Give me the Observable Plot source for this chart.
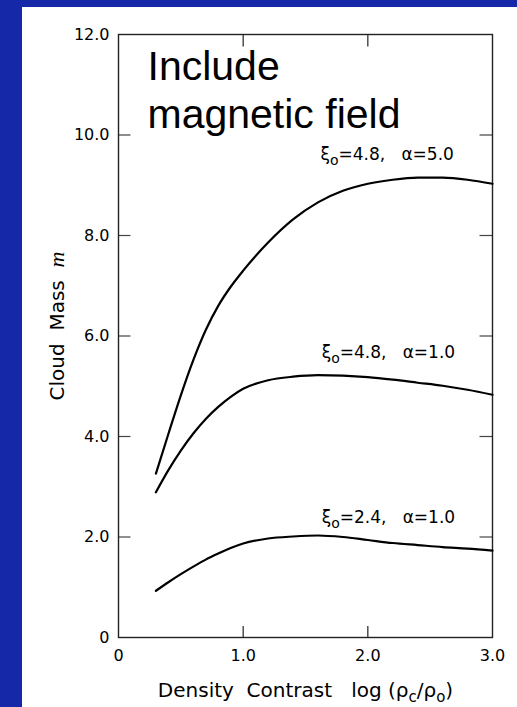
<!DOCTYPE html>
<html><head><meta charset="utf-8">
<script src="https://cdn.jsdelivr.net/npm/d3@7"></script>
<script src="https://cdn.jsdelivr.net/npm/@observablehq/plot@0.6"></script>
<style>
html,body{margin:0;padding:0;background:#1529a8;width:517px;height:707px;overflow:hidden}
#panel{position:absolute;left:22px;top:7px;width:495px;height:700px;background:#fff}
#panel svg text{white-space:pre}
</style></head><body><div id="panel"></div>
<script>
// ---- data ----
const xTicks = [0, 1, 2, 3];
const yTicks = [0, 2, 4, 6, 8, 10, 12];
const innerXTicks = [1, 2];
const innerYTicks = [2, 4, 6, 8, 10];

const seriesNames = ["xi4.8_a5.0", "xi4.8_a1.0", "xi2.4_a1.0"];
const logContrast = [0.30, 0.40, 0.50, 0.60, 0.70, 0.80, 0.90, 1.00, 1.20, 1.40, 1.60, 1.80, 2.00, 2.20, 2.40, 2.60, 2.80, 3.00];
const massA = [3.26, 4.05, 4.82, 5.52, 6.12, 6.60, 6.98, 7.30, 7.86, 8.32, 8.66, 8.89, 9.03, 9.11, 9.15, 9.15, 9.11, 9.03];
const massB = [2.89, 3.33, 3.72, 4.06, 4.35, 4.59, 4.79, 4.95, 5.12, 5.19, 5.22, 5.21, 5.18, 5.13, 5.07, 5.01, 4.93, 4.83];
const massC = [0.93, 1.10, 1.26, 1.41, 1.55, 1.67, 1.78, 1.87, 1.97, 2.01, 2.03, 2.00, 1.94, 1.88, 1.84, 1.80, 1.77, 1.73];

const labelXi = ["4.8", "4.8", "2.4"];
const labelAlpha = ["5.0", "1.0", "1.0"];
const labelAtX = [1.62, 1.63, 1.63];
const labelAtM = [9.51, 5.57, 2.27];

const titleText = "Include\nmagnetic field";
const xTitle = "Density  Contrast   log (ρc/ρo)";
const yTitle = "Cloud  Mass  m";

// ---- build tables ----
const curves = [];
[massA, massB, massC].forEach((ms, i) => {
  logContrast.forEach((x, j) => curves.push({series: seriesNames[i], x, m: ms[j]}));
});
const labels = labelXi.map((xi, i) => ({
  text: `ξo=${xi},   α=${labelAlpha[i]}`, x: labelAtX[i], m: labelAtM[i]
}));

const fmt = d => d === 0 ? "0" : d.toFixed(1);

const chart = Plot.plot({
  width: 495, height: 700,
  marginLeft: 96, marginRight: 25, marginTop: 27, marginBottom: 70,
  x: {domain: [0, 3], axis: null},
  y: {domain: [0, 12], axis: null},
  style: {fontFamily: "DejaVu Sans", fontSize: "16px", color: "#000", background: "transparent", overflow: "visible"},
  marks: [
    Plot.axisX(xTicks, {tickSize: 0, tickPadding: 12, tickFormat: fmt, fontSize: 16, label: null}),
    Plot.axisY(yTicks, {tickSize: 0, tickPadding: 9, tickFormat: fmt, fontSize: 16, label: null}),
    Plot.ruleX(innerXTicks, {y1: 0, y2: 0.22, stroke: "#222", strokeWidth: 1.2}),
    Plot.ruleX(innerXTicks, {y1: 12, y2: 11.75, stroke: "#222", strokeWidth: 1.2}),
    Plot.ruleY(innerYTicks, {x1: 0, x2: 0.1, stroke: "#444", strokeWidth: 1.2}),
    Plot.ruleY(innerYTicks, {x1: 3, x2: 2.9, stroke: "#444", strokeWidth: 1.2}),
    Plot.frame({stroke: "#222", strokeWidth: 1.4}),
    Plot.line(curves, {x: "x", y: "m", z: "series", stroke: "#000", strokeWidth: 2.2, curve: "monotone-x"}),
    Plot.text([titleText], {frameAnchor: "top-left", dx: 29, dy: 11, textAnchor: "start", lineAnchor: "top",
      fontSize: 41, lineHeight: 1.17, fontFamily: "Liberation Sans", fill: "#000"}),
    Plot.text(labels, {x: "x", y: "m", text: "text", textAnchor: "start", lineAnchor: "bottom", fontSize: 17, fill: "#000"}),
    Plot.text([xTitle], {frameAnchor: "bottom", dy: 59, lineAnchor: "bottom", fontSize: 20, fill: "#000"}),
    Plot.text([yTitle], {frameAnchor: "left", rotate: -90, dx: -55, dy: -10, textAnchor: "middle", lineAnchor: "bottom", fontSize: 20, fill: "#000"})
  ]
});

// rich text: subscripts and italic symbol
d3.select(chart).selectAll("text").each(function () {
  const t = this.textContent;
  const el = d3.select(this);
  if (t.startsWith("ξo=")) {
    const rest = t.slice(2);
    el.text(null);
    el.append("tspan").text("ξ");
    el.append("tspan").attr("dy", 5).attr("font-size", 14).text("o");
    el.append("tspan").attr("dy", -5).text(rest);
  } else if (t === xTitle) {
    el.text(null);
    el.append("tspan").text("Density  Contrast   log (ρ");
    el.append("tspan").attr("dy", 5).attr("font-size", 15).text("c");
    el.append("tspan").attr("dy", -5).text("/ρ");
    el.append("tspan").attr("dy", 5).attr("font-size", 15).text("o");
    el.append("tspan").attr("dy", -5).text(")");
  } else if (t === yTitle) {
    el.text(null);
    el.append("tspan").text("Cloud  Mass  ");
    el.append("tspan").attr("font-family", "Liberation Serif").attr("font-style", "italic").attr("font-size", 22).text("m");
  }
});

document.getElementById("panel").appendChild(chart);
</script>
</body></html>
